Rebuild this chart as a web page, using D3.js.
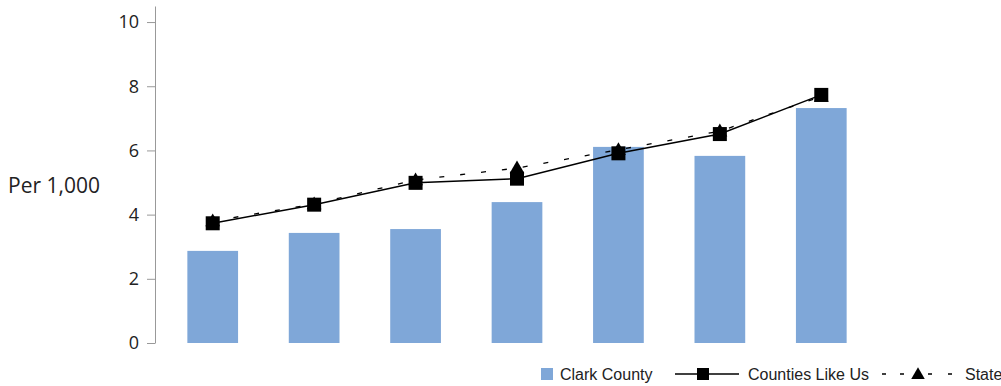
<!DOCTYPE html>
<html>
<head>
<meta charset="utf-8">
<script src="https://cdn.jsdelivr.net/npm/d3@7"></script>
<style>
  body { margin: 0; background: #fff; }
  .axis text { font-family: 'Open Sans', sans-serif; font-size: 18px; fill: #222; }
  .axis path, .axis line { stroke: #999; }
  .legend text { font-family: 'Liberation Sans', Arial, sans-serif; font-size: 16px; fill: #222; }
</style>
</head>
<body>
<div id="chart"></div>
<script>
  var categories = ['A', 'B', 'C', 'D', 'E', 'F', 'G'];
  var clarkCounty = [2.87, 3.43, 3.55, 4.39, 6.11, 5.83, 7.32];
  var countiesLikeUs = [3.73, 4.31, 4.99, 5.12, 5.91, 6.51, 7.73];
  var state = [3.8, 4.33, 5.08, 5.45, 6.02, 6.6, 7.68];
  var yTicks = [0, 2, 4, 6, 8, 10];

  var width = 1001;
  var height = 386;
  var barColor = '#7fa7d8';

  var svg = d3.select('#chart')
    .append('svg')
    .attr('width', width)
    .attr('height', height);

  var x = d3.scaleBand()
    .domain(categories)
    .range([162, 872])
    .paddingInner(0.5)
    .paddingOuter(0.25);

  var y = d3.scaleLinear()
    .domain([0, 10.5])
    .range([343, 6]);

  // y axis
  svg.append('g')
    .attr('class', 'axis')
    .attr('transform', 'translate(155,0)')
    .call(d3.axisLeft(y).tickValues(yTicks).tickSize(8).tickSizeOuter(0).tickPadding(8));

  svg.append('text')
    .attr('x', 8)
    .attr('y', 193)
    .style('font-family', "'Open Sans', sans-serif")
    .style('font-size', '21px')
    .style('fill', '#222')
    .text('Per 1,000');

  // bars
  svg.selectAll('.bar')
    .data(clarkCounty)
    .enter()
    .append('rect')
    .attr('class', 'bar')
    .attr('x', function(d, i) { return x(categories[i]); })
    .attr('y', function(d) { return y(d); })
    .attr('width', x.bandwidth())
    .attr('height', function(d) { return y(0) - y(d); })
    .attr('fill', barColor);

  var cx = function(d, i) { return x(categories[i]) + x.bandwidth() / 2; };
  var line = d3.line()
    .x(cx)
    .y(function(d) { return y(d); });

  var tri = d3.symbol().type(d3.symbolTriangle).size(95);
  var sq = 14;

  // State: dashed line + triangles
  svg.append('path')
    .datum(state)
    .attr('d', line)
    .attr('fill', 'none')
    .attr('stroke', '#000')
    .attr('stroke-width', 1.3)
    .attr('stroke-dasharray', '5,16');

  svg.selectAll('.tri')
    .data(state)
    .enter()
    .append('path')
    .attr('class', 'tri')
    .attr('d', tri)
    .attr('transform', function(d, i) { return 'translate(' + cx(d, i) + ',' + (y(d) + 1) + ')'; })
    .attr('fill', '#000');

  // Counties Like Us: solid line + squares
  svg.append('path')
    .datum(countiesLikeUs)
    .attr('d', line)
    .attr('fill', 'none')
    .attr('stroke', '#000')
    .attr('stroke-width', 1.5);

  svg.selectAll('.sq')
    .data(countiesLikeUs)
    .enter()
    .append('rect')
    .attr('class', 'sq')
    .attr('x', function(d, i) { return cx(d, i) - sq / 2; })
    .attr('y', function(d) { return y(d) - sq / 2; })
    .attr('width', sq)
    .attr('height', sq)
    .attr('fill', '#000');

  // legend
  var legend = svg.append('g').attr('class', 'legend');
  var ly = 374;

  legend.append('rect')
    .attr('x', 541).attr('y', ly - 6)
    .attr('width', 12).attr('height', 12)
    .attr('fill', barColor);
  legend.append('text').attr('x', 560).attr('y', ly + 6).text('Clark County');

  legend.append('line')
    .attr('x1', 675).attr('x2', 739).attr('y1', ly).attr('y2', ly)
    .attr('stroke', '#000').attr('stroke-width', 1.5);
  legend.append('rect')
    .attr('x', 697).attr('y', ly - 6)
    .attr('width', 12).attr('height', 12)
    .attr('fill', '#000');
  legend.append('text').attr('x', 748).attr('y', ly + 6).text('Counties Like Us');

  legend.append('line')
    .attr('x1', 882).attr('x2', 952).attr('y1', ly).attr('y2', ly)
    .attr('stroke', '#000').attr('stroke-width', 1.3)
    .attr('stroke-dasharray', '4,14,4,24,4,16,4');
  legend.append('path')
    .attr('d', d3.symbol().type(d3.symbolTriangle).size(80))
    .attr('transform', 'translate(918,' + (ly + 1) + ')')
    .attr('fill', '#000');
  legend.append('text').attr('x', 965).attr('y', ly + 6).text('State');
</script>
</body>
</html>
